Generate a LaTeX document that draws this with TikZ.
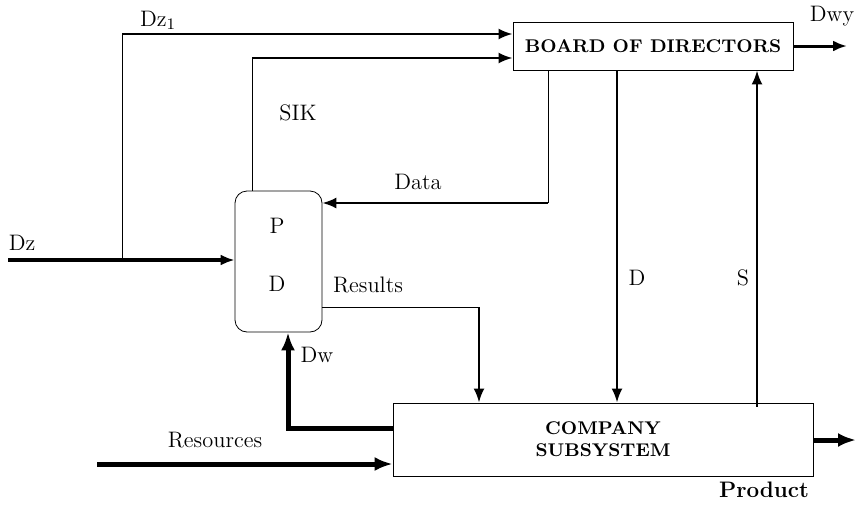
\documentclass[tikz,border=0pt]{standalone}
\usepackage{tikz}
\usetikzlibrary{arrows.meta}
\tikzset{
  block/.style={draw, thin, inner sep=0pt, font=\fontsize{9.2}{11}\selectfont\bfseries, align=center},
  flow/.style={-{Latex[length=7pt,width=5.5pt]}},
  bigflow/.style={-{Latex[length=9pt,width=7pt]}},
}
\begin{document}
\begin{tikzpicture}[x=0.5pt, y=-0.5pt, font=\fontsize{11.2}{13}\selectfont]
\useasboundingbox (0,0) rectangle (856,504);
%\draw [very thin, gray] (0,0) grid[step=50] (856,504);
\node [block, minimum width=140pt, minimum height=24pt] (board) at (653,46) {BOARD OF DIRECTORS};
\node [draw, thin, rounded corners=6pt, minimum width=43.5pt, minimum height=70.5pt] (pd) at (278.5,261.5) {};
\node (p) at (277,226) {P};
\node (d) at (277,284) {D};
\node [block, minimum width=210pt, minimum height=36.5pt] (company) at (603,439.5) {COMPANY\\SUBSYSTEM};
% free ends and corners
\coordinate (dzin) at (8,260);
\coordinate (resin) at (97,464);
\coordinate (dwyout) at (847,46);
\coordinate (prodout) at (856,440);
\coordinate (split) at (122,260);
\coordinate (dz1corner) at (122,34);
\coordinate (sikcorner) at (252,58);
\coordinate (datacorner) at (548,203);
\coordinate (rescorner) at (479,307);
% inputs to board
\draw [thin] (split) -- (dz1corner);
\draw [line width=1.2pt] [flow] (dz1corner) -- (board.west |- dz1corner);
\draw [thin] (pd.north -| sikcorner) -- (sikcorner);
\draw [line width=1.2pt] [flow] (sikcorner) -- (board.west |- sikcorner);
\draw [line width=1.5pt] [flow] (board.east) -- (dwyout);
% Dz
\draw [line width=2pt] [flow] (dzin) -- (pd.west |- dzin);
% Data
\draw [thin] (board.south -| datacorner) -- (datacorner);
\draw [line width=1pt] [flow] (datacorner) -- (pd.east |- datacorner);
% D and S
\draw [line width=1.2pt] [flow] (board.south -| 617,0) -- (company.north -| 617,0);
\draw [line width=1.2pt] [flow] ([yshift=-2pt]company.north -| 757,0) -- (board.south -| 757,0);
% Results
\draw [thin] (pd.east |- rescorner) -- (rescorner);
\draw [line width=1.2pt] [flow] (rescorner) -- (company.north -| rescorner);
% Dw
\draw [line width=2.5pt] [bigflow] (company.west |- 0,428) -| (pd.south -| 288,0);
% Resources and Product
\draw [line width=2.5pt] [bigflow] (resin) -- (company.west |- resin);
\draw [line width=2.5pt] [bigflow] (company.east |- prodout) -- (prodout);
% labels
\node (ldz1) at (158,20) {Dz$_1$};
\node (lsik) at (298,113) {SIK};
\node (ldwy) at (832,16) {Dwy};
\node (ldata) at (418,182) {Data};
\node (ldz) at (22,243) {Dz};
\node (lres) at (368,285) {Results};
\node (ldw) at (317,355) {Dw};
\node (ld) at (637,278) {D};
\node (ls) at (743,278) {S};
\node (lresources) at (215,440) {Resources};
\node [font=\fontsize{11.2}{13}\selectfont\bfseries] (lproduct) at (764,490) {Product};
\end{tikzpicture}
\end{document}
